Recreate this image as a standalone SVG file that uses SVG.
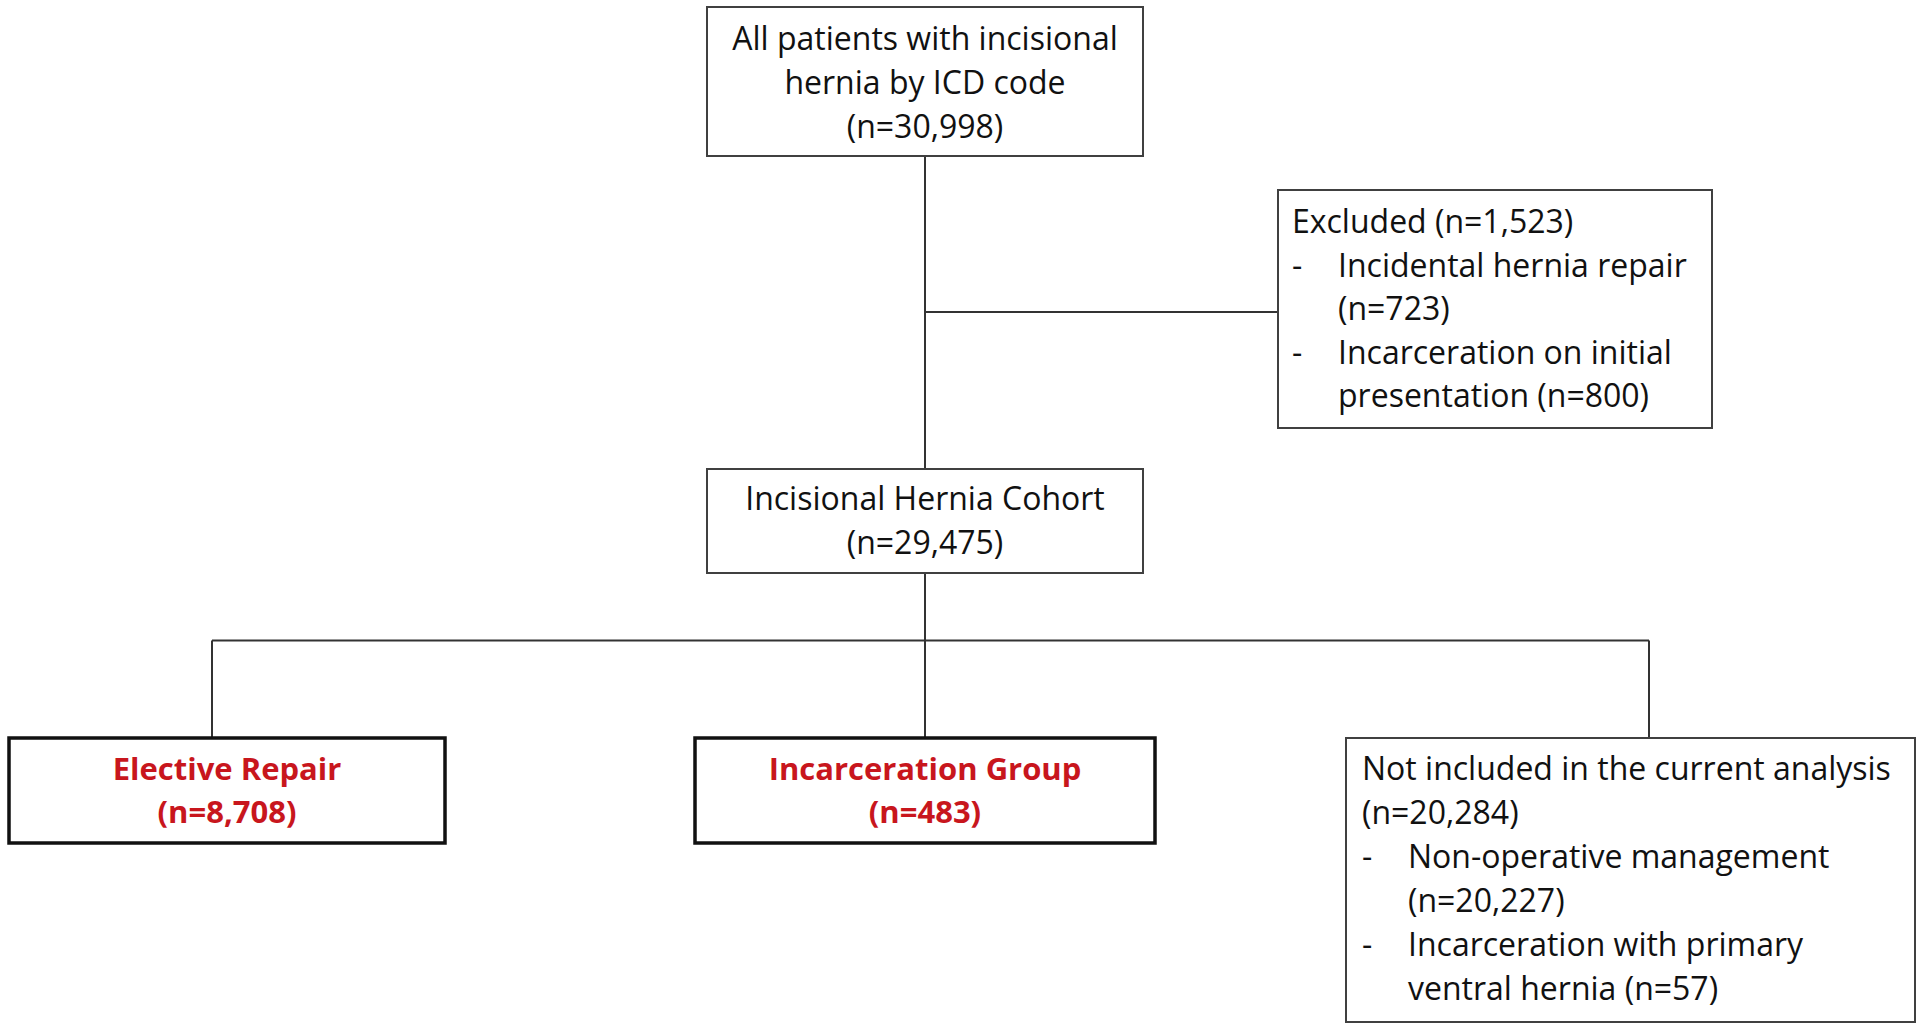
<svg xmlns="http://www.w3.org/2000/svg" width="1920" height="1027" viewBox="0 0 1920 1027">
<style>
.box{fill:#fff;stroke:#404040;stroke-width:2}
.bold{fill:#fff;stroke:#111;stroke-width:3.5}
.t{font-family:"Open Sans","Liberation Sans",sans-serif;font-size:32px;fill:#111}
.c{text-anchor:middle}
.r{font-family:"Open Sans","Liberation Sans",sans-serif;font-size:31px;font-weight:bold;fill:#C8161D;text-anchor:middle}
.ln{stroke:#333;stroke-width:2;fill:none}
</style>
<rect width="1920" height="1027" fill="#fff"/>
<g id="connectors">
<line class="ln" x1="925" y1="156" x2="925" y2="469"/>
<line class="ln" x1="925" y1="312" x2="1278" y2="312"/>
<line class="ln" x1="925" y1="573" x2="925" y2="738"/>
<line class="ln" x1="212" y1="640.5" x2="1649" y2="640.5"/>
<line class="ln" x1="212" y1="640.5" x2="212" y2="738"/>
<line class="ln" x1="1649" y1="640.5" x2="1649" y2="738"/>
</g>
<g id="node-all">
<rect class="box" x="707" y="7" width="436" height="149"/>
<text class="t c" x="925" y="50">All patients with incisional</text>
<text class="t c" x="925" y="94">hernia by ICD code</text>
<text class="t c" x="925" y="138">(n=30,998)</text>
</g>
<g id="node-excluded">
<rect class="box" x="1278" y="190" width="434" height="238"/>
<text class="t" x="1292" y="233">Excluded (n=1,523)</text>
<text class="t" x="1292" y="277">-</text>
<text class="t" x="1338" y="277">Incidental hernia repair</text>
<text class="t" x="1338" y="320">(n=723)</text>
<text class="t" x="1292" y="364">-</text>
<text class="t" x="1338" y="364">Incarceration on initial</text>
<text class="t" x="1338" y="407">presentation (n=800)</text>
</g>
<g id="node-cohort">
<rect class="box" x="707" y="469" width="436" height="104"/>
<text class="t c" x="925" y="510">Incisional Hernia Cohort</text>
<text class="t c" x="925" y="554">(n=29,475)</text>
</g>
<g id="node-elective">
<rect class="bold" x="9" y="738" width="436" height="105"/>
<text class="r" x="227" y="780">Elective Repair</text>
<text class="r" x="227" y="823">(n=8,708)</text>
</g>
<g id="node-incarceration">
<rect class="bold" x="695" y="738" width="460" height="105"/>
<text class="r" x="925" y="780">Incarceration Group</text>
<text class="r" x="925" y="823">(n=483)</text>
</g>
<g id="node-notincluded">
<rect class="box" x="1346" y="738" width="569" height="284"/>
<text class="t" x="1362" y="780">Not included in the current analysis</text>
<text class="t" x="1362" y="824">(n=20,284)</text>
<text class="t" x="1362" y="868">-</text>
<text class="t" x="1408" y="868">Non-operative management</text>
<text class="t" x="1408" y="912">(n=20,227)</text>
<text class="t" x="1362" y="956">-</text>
<text class="t" x="1408" y="956">Incarceration with primary</text>
<text class="t" x="1408" y="1000">ventral hernia (n=57)</text>
</g>
</svg>
